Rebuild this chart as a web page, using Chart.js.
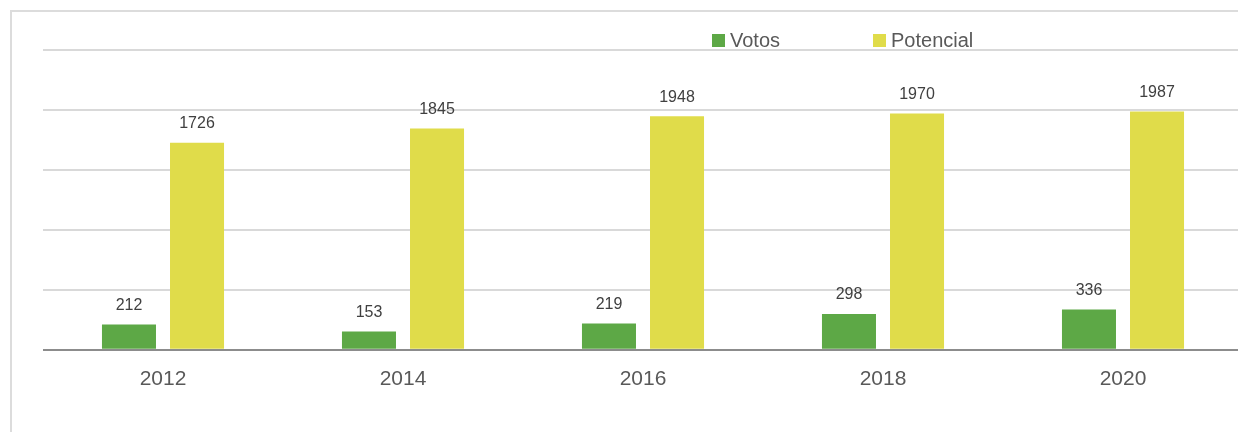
<!DOCTYPE html>
<html lang="es">
<head>
    <meta charset="UTF-8">
    <title>Votos y Potencial</title>
    <script src="https://cdn.jsdelivr.net/npm/chart.js"></script>
    <style>
        html, body { margin: 0; padding: 0; background: #fff; overflow: hidden; }
        body { width: 1238px; height: 432px; position: relative; font-family: 'Liberation Sans', Arial, sans-serif; }
        .frame { position: absolute; left: 10px; top: 10px; right: -2px; bottom: -2px; border-left: 2px solid #dcdcdc; border-top: 2px solid #dcdcdc; }
        .chart-box { position: absolute; left: 0; top: 0; width: 1250px; height: 432px; }
        .legend { position: absolute; top: 28px; left: 712px; font-size: 20px; color: #595959; }
        .legend span { display: inline-block; vertical-align: middle; }
        .legend .sw { width: 13px; height: 13px; margin-right: 5px; }
        .legend .item { position: absolute; white-space: nowrap; top: 0; }
    </style>
</head>
<body>
<div class="frame"></div>
<div class="chart-box"><canvas id="chart"></canvas></div>
<div class="legend" id="legend"></div>

<script>
    const years = ['2012', '2014', '2016', '2018', '2020'];
    const votos = [212, 153, 219, 298, 336];
    const potencial = [1726, 1845, 1948, 1970, 1987];
    const yTicks = [0, 500, 1000, 1500, 2000, 2500];

    const green = '#5da846';
    const yellow = '#e0dc4a';

    // legend drawn as html, laid out like the original
    const legendItems = [
        { label: 'Votos', color: green, left: 0 },
        { label: 'Potencial', color: yellow, left: 161 }
    ];
    document.getElementById('legend').innerHTML = legendItems.map(it =>
        `<div class="item" style="left:${it.left}px"><span class="sw" style="background:${it.color}"></span><span>${it.label}</span></div>`
    ).join('');

    // value labels above bars
    const valueLabels = {
        id: 'valueLabels',
        afterDatasetsDraw(chart) {
            const ctx = chart.ctx;
            ctx.save();
            ctx.font = '16px "Liberation Sans", Arial, sans-serif';
            ctx.fillStyle = '#404040';
            ctx.textAlign = 'center';
            ctx.textBaseline = 'bottom';
            chart.data.datasets.forEach((ds, i) => {
                chart.getDatasetMeta(i).data.forEach((bar, j) => {
                    ctx.fillText(ds.data[j], bar.x, bar.y - 11);
                });
            });
            ctx.restore();
        }
    };

    new Chart(document.getElementById('chart'), {
        type: 'bar',
        data: {
            labels: years,
            datasets: [
                { label: 'Votos', data: votos, backgroundColor: green },
                { label: 'Potencial', data: potencial, backgroundColor: yellow }
            ]
        },
        options: {
            responsive: true,
            maintainAspectRatio: false,
            animation: false,
            datasets: { bar: { categoryPercentage: 0.567, barPercentage: 0.794 } },
            layout: { padding: { left: 43, right: 7, top: 50, bottom: 23 } },
            plugins: { legend: { display: false }, tooltip: { enabled: false } },
            scales: {
                x: {
                    grid: { display: false, drawTicks: false },
                    border: { display: false },
                    ticks: { color: '#595959', font: { size: 21, family: '"Liberation Sans", Arial, sans-serif' }, padding: 17 }
                },
                y: {
                    min: 0,
                    max: 2500,
                    afterBuildTicks: axis => { axis.ticks = yTicks.map(v => ({ value: v })); },
                    ticks: { display: false },
                    border: { display: false },
                    grid: {
                        drawTicks: false,
                        lineWidth: 2,
                        color: c => c.tick && c.tick.value === 0 ? '#8c8c8c' : '#d9d9d9'
                    }
                }
            }
        },
        plugins: [valueLabels]
    });
</script>
</body>
</html>
